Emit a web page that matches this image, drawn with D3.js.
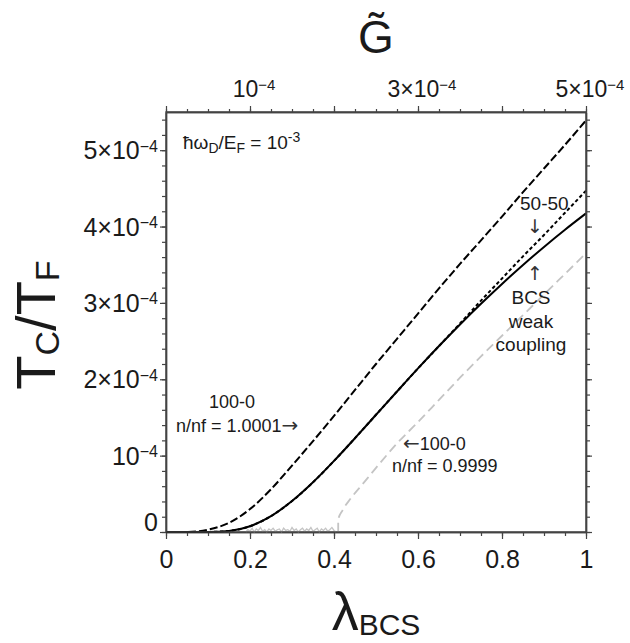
<!DOCTYPE html>
<html>
<head>
<meta charset="utf-8">
<script src="https://cdn.jsdelivr.net/npm/d3@7"></script>
<style>
  body { margin: 0; background: #fff; }
  svg { display: block; }
  text { font-family: "Liberation Sans", Arial, sans-serif; fill: #1a1a1a; }
  .arrow { font-family: "DejaVu Sans", sans-serif; fill: #333; }
</style>
</head>
<body>
<svg id="chart" width="630" height="643"></svg>
<script>
// Coupling grid (lambda_BCS) shared by the smooth curves
const lambdaGrid = [0, 0.05, 0.1, 0.15, 0.2, 0.25, 0.3, 0.35, 0.4, 0.45, 0.5,
                    0.55, 0.6, 0.65, 0.7, 0.75, 0.8, 0.85, 0.9, 0.95, 1.0];
// Tc/TF in units of 1e-4
const tcBCS    = [0, 0, 0.001, 0.014, 0.076, 0.208, 0.405, 0.651, 0.931, 1.229, 1.535,
                  1.840, 2.142, 2.435, 2.718, 2.989, 3.249, 3.497, 3.733, 3.958, 4.172];
const tc5050   = [0, 0, 0.001, 0.014, 0.076, 0.208, 0.405, 0.651, 0.931, 1.229, 1.535,
                  1.840, 2.142, 2.435, 2.73, 3.03, 3.32, 3.61, 3.89, 4.18, 4.47];
const tcPlus   = [0, 0, 0.03, 0.12, 0.30, 0.56, 0.87, 1.19, 1.52, 1.86, 2.20,
                  2.53, 2.86, 3.19, 3.51, 3.82, 4.13, 4.45, 4.76, 5.07, 5.39];

// n/nf = 0.9999 branch: onset near lambda = 0.41
const lambdaMinus = [0.41, 0.41, 0.42, 0.44, 0.47, 0.5, 0.55, 0.6, 0.65, 0.7, 0.75, 0.8, 0.85, 0.9, 0.95, 1.0];
const tcMinus     = [0, 0.16, 0.28, 0.44, 0.64, 0.84, 1.16, 1.44, 1.73, 2.02, 2.30, 2.57, 2.84, 3.11, 3.38, 3.65];
// numerical noise floor of the same branch below onset
const lambdaNoise = [0.19, 0.195, 0.2, 0.205, 0.21, 0.215, 0.22, 0.225, 0.23, 0.235,
                     0.24, 0.245, 0.25, 0.255, 0.26, 0.265, 0.27, 0.275, 0.28, 0.285,
                     0.29, 0.295, 0.3, 0.305, 0.31, 0.315, 0.32, 0.325, 0.33, 0.335,
                     0.34, 0.345, 0.35, 0.355, 0.36, 0.365, 0.37, 0.375, 0.38, 0.385,
                     0.39, 0.395, 0.4, 0.405];
const tcNoise     = [0.00, 0.03, 0.01, 0.05, 0.00, 0.04, 0.02, 0.06, 0.01, 0.03,
                     0.00, 0.04, 0.02, 0.05, 0.01, 0.03, 0.04, 0.00, 0.05, 0.02,
                     0.03, 0.01, 0.06, 0.02, 0.04, 0.00, 0.03, 0.05, 0.01, 0.04,
                     0.02, 0.06, 0.01, 0.03, 0.05, 0.00, 0.04, 0.02, 0.05, 0.01,
                     0.03, 0.06, 0.02, 0.00];

// Tick values and labels
const xMajor = [0, 0.2, 0.4, 0.6, 0.8, 1];
const xTickLabels = ["0", "0.2", "0.4", "0.6", "0.8", "1"];
const yMajor = [0, 1, 2, 3, 4, 5];                 // units of 1e-4
const yTickBase = ["0", "10", "2×10", "3×10", "4×10", "5×10"];
const yTickExp  = ["", "−4", "−4", "−4", "−4", "−4"];
const gMajor = [0, 1, 2, 3, 4, 5];                 // G~ in units of 1e-4
const gLabelled = [1, 3, 5];
const gTickBase = ["10", "3×10", "5×10"];
const gTickExp  = ["−4", "−4", "−4"];

const svg = d3.select("#chart");
const L = 166, R = 586, T = 112, B = 532;

const x = d3.scaleLinear().domain([0, 1]).range([L, R]);
const xTop = d3.scaleLinear().domain([0, 5]).range([L, R]);
const y = d3.scaleLinear().domain([0, 5.5]).range([B, T]);

const axisColor = "#444";

function styleAxis(g) {
  g.selectAll("path.domain").attr("stroke", axisColor).attr("stroke-width", 1.4);
  g.selectAll(".tick line").attr("stroke", axisColor).attr("stroke-width", 1.2);
}

// ---- minor ticks ----
const xMinor = d3.range(0, 1.0001, 0.05);
const yMinor = d3.range(0, 5.41, 0.2);
const gMinor = d3.range(0, 5.001, 0.25);

svg.append("g").attr("transform", `translate(0,${B})`)
  .call(d3.axisBottom(x).tickValues(xMinor).tickSize(4).tickSizeOuter(0).tickFormat(""))
  .call(styleAxis);
svg.append("g").attr("transform", `translate(${L},0)`)
  .call(d3.axisLeft(y).tickValues(yMinor).tickSize(4).tickSizeOuter(0).tickFormat(""))
  .call(styleAxis);
svg.append("g").attr("transform", `translate(${R},0)`)
  .call(d3.axisRight(y).tickValues(yMinor).tickSize(4).tickSizeOuter(0).tickFormat(""))
  .call(styleAxis);
svg.append("g").attr("transform", `translate(0,${T})`)
  .call(d3.axisTop(xTop).tickValues(gMinor).tickSize(3).tickSizeOuter(0).tickFormat(""))
  .call(styleAxis);

// ---- major ticks ----
const gx = svg.append("g").attr("transform", `translate(0,${B})`)
  .call(d3.axisBottom(x).tickValues(xMajor).tickSize(7).tickSizeOuter(0).tickPadding(11)
        .tickFormat((d, i) => xTickLabels[i]))
  .call(styleAxis);
gx.selectAll(".tick text").attr("font-size", 25).attr("fill", "#1a1a1a")
  .style("font-family", '"Liberation Sans", Arial, sans-serif');

const gy = svg.append("g").attr("transform", `translate(${L},0)`)
  .call(d3.axisLeft(y).tickValues(yMajor).tickSize(6).tickSizeOuter(0).tickPadding(2)
        .tickFormat(""))
  .call(styleAxis);
gy.selectAll(".tick text").each(function (d, i) {
  const t = d3.select(this)
    .attr("font-size", 25).attr("fill", "#1a1a1a")
    .style("font-family", '"Liberation Sans", Arial, sans-serif')
    .attr("dy", i === 0 ? "-0.05em" : "0.34em");
  t.append("tspan").text(yTickBase[i]);
  if (yTickExp[i]) {
    t.append("tspan").attr("dy", "-0.48em").attr("font-size", 16).text(yTickExp[i]);
  }
});

svg.append("g").attr("transform", `translate(${R},0)`)
  .call(d3.axisRight(y).tickValues(yMajor).tickSize(6).tickSizeOuter(0).tickFormat(""))
  .call(styleAxis);

svg.append("g").attr("transform", `translate(0,${T})`)
  .call(d3.axisTop(xTop).tickValues(gMajor).tickSize(6).tickSizeOuter(0).tickFormat(""))
  .call(styleAxis);

// labels on the G~ axis (only at 1, 3, 5 x 1e-4)
gLabelled.forEach((v, i) => {
  const t = svg.append("text")
    .attr("x", xTop(v) + 4).attr("y", 97)
    .attr("text-anchor", "middle").attr("font-size", 23);
  t.append("tspan").text(gTickBase[i]);
  t.append("tspan").attr("dy", "-0.5em").attr("font-size", 15).text(gTickExp[i]);
});

// ---- curves ----
const line = d3.line()
  .x(d => x(d[0])).y(d => y(d[1]))
  .curve(d3.curveMonotoneX);

const plot = svg.append("g");

plot.append("path")
  .attr("d", d3.line().x(d => x(d[0])).y(d => y(d[1]))(d3.zip(lambdaNoise, tcNoise)))
  .attr("fill", "none").attr("stroke", "#c4c4c4").attr("stroke-width", 1.3);

plot.append("path")
  .attr("d", line(d3.zip(lambdaMinus, tcMinus)))
  .attr("fill", "none").attr("stroke", "#c4c4c4").attr("stroke-width", 1.8)
  .attr("stroke-dasharray", "9,5");

plot.append("path")
  .attr("d", line(d3.zip(lambdaGrid, tcBCS)))
  .attr("fill", "none").attr("stroke", "#000").attr("stroke-width", 2);

plot.append("path")
  .attr("d", line(d3.zip(lambdaGrid, tc5050)))
  .attr("fill", "none").attr("stroke", "#000").attr("stroke-width", 2)
  .attr("stroke-dasharray", "3.5,2.5");

plot.append("path")
  .attr("d", line(d3.zip(lambdaGrid, tcPlus)))
  .attr("fill", "none").attr("stroke", "#000").attr("stroke-width", 2)
  .attr("stroke-dasharray", "8,3");

// ---- frame on top ----
svg.append("rect").attr("x", L).attr("y", T).attr("width", R - L).attr("height", B - T)
  .attr("fill", "none").attr("stroke", axisColor).attr("stroke-width", 1.4);

// ---- axis titles ----
const xt = svg.append("text").attr("x", 376).attr("y", 630).attr("text-anchor", "middle")
  .attr("font-size", 54).attr("fill", "#000");
xt.append("tspan").text("λ");
xt.append("tspan").attr("dy", 5).attr("font-size", 30).text("BCS");

const yt = svg.append("text")
  .attr("transform", "translate(55,325) rotate(-90)")
  .attr("text-anchor", "middle").attr("font-size", 56).attr("fill", "#000");
yt.append("tspan").text("T");
yt.append("tspan").attr("dy", 4).attr("font-size", 34).text("C");
yt.append("tspan").attr("dy", -4).text("/T");
yt.append("tspan").attr("dy", 4).attr("font-size", 34).text("F");

svg.append("text").attr("x", 376).attr("y", 53).attr("text-anchor", "middle")
  .attr("font-size", 46).attr("fill", "#000").text("G\u0303");

// ---- annotations ----
const ann = svg.append("text").attr("x", 183).attr("y", 149).attr("font-size", 19);
ann.append("tspan").text("ħω");
ann.append("tspan").attr("dy", 4).attr("font-size", 14).text("D");
ann.append("tspan").attr("dy", -4).text("/E");
ann.append("tspan").attr("dy", 4).attr("font-size", 14).text("F");
ann.append("tspan").attr("dy", -4).text(" = 10");
ann.append("tspan").attr("dy", -7).attr("font-size", 14).text("-3");

function label(parts, xx, yy, size, anchor) {
  const t = svg.append("text").attr("x", xx).attr("y", yy).attr("font-size", size)
    .attr("text-anchor", anchor || "start");
  parts.forEach(p => {
    if (typeof p === "string") t.append("tspan").text(p);
    else t.append("tspan").attr("class", "arrow").attr("font-size", p.size || size).text(p.a);
  });
}
label(["100-0"], 232, 408, 18, "middle");
label(["n/nf = 1.0001", {a: "→", size: 20}], 176, 432, 18);
label([{a: "←", size: 20}, "100-0"], 403, 450, 18);
label(["n/nf = 0.9999"], 392, 472, 18);
label(["50-50"], 520, 210, 19);
label([{a: "↓", size: 19}], 535, 233, 19, "middle");
label([{a: "↑", size: 19}], 535, 280, 19, "middle");
label(["BCS"], 531, 304, 19, "middle");
label(["weak"], 531, 328, 19, "middle");
label(["coupling"], 531, 351, 19, "middle");
</script>
</body>
</html>
